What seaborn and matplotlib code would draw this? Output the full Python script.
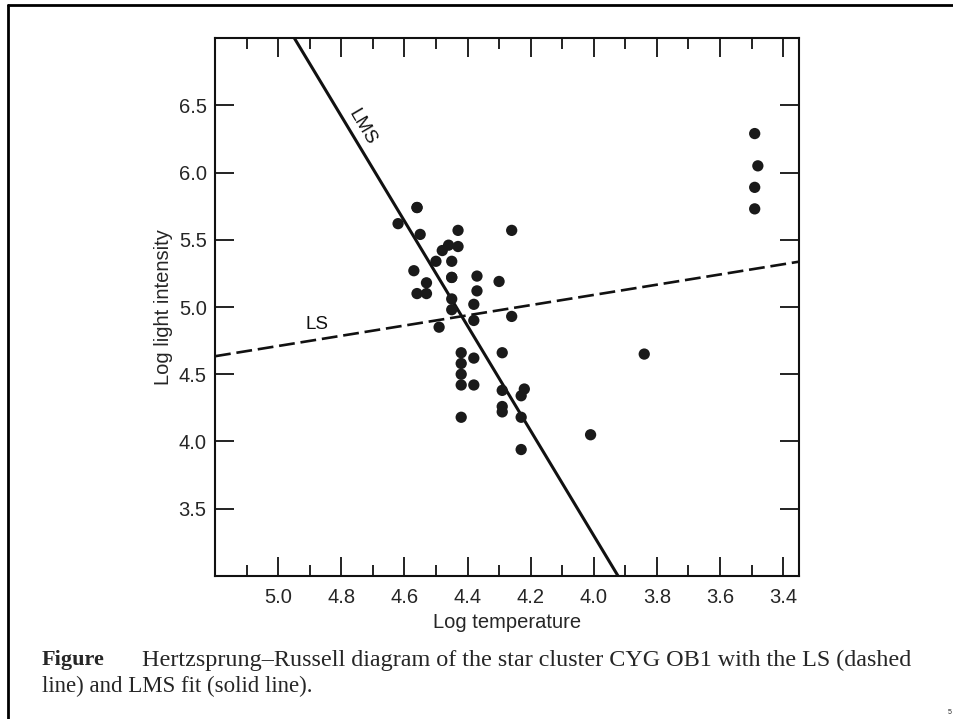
#diagrama de Hertzsprung-Russell del cúmulo CYG OB1 con ajuste LS y LMS
import numpy as np
import pandas as pd
import matplotlib.pyplot as plt
import seaborn as sns
from matplotlib.lines import Line2D
from matplotlib.ticker import MultipleLocator

#datos (log temperatura, log intensidad)
log_te = [4.37, 4.56, 4.26, 4.56, 4.30, 4.46, 3.84, 4.57, 4.26, 4.37,
          3.49, 4.43, 4.48, 4.01, 4.29, 4.42, 4.23, 4.42, 4.23, 3.49,
          4.29, 4.29, 4.42, 4.49, 4.38, 4.42, 4.29, 4.38, 4.22, 3.48,
          4.38, 4.56, 4.45, 3.49, 4.23, 4.62, 4.53, 4.45, 4.53, 4.43,
          4.38, 4.45, 4.50, 4.45, 4.55, 4.45, 4.42]
log_light = [5.23, 5.74, 4.93, 5.74, 5.19, 5.46, 4.65, 5.27, 5.57, 5.12,
             5.73, 5.45, 5.42, 4.05, 4.26, 4.58, 3.94, 4.18, 4.18, 5.89,
             4.38, 4.22, 4.42, 4.85, 5.02, 4.66, 4.66, 4.90, 4.39, 6.05,
             4.42, 5.10, 5.22, 6.29, 4.34, 5.62, 5.10, 5.22, 5.18, 5.57,
             4.62, 5.06, 5.34, 5.34, 5.54, 4.98, 4.50]

#coeficientes de las rectas (intercepto, pendiente)
ls_fit = (6.61, -0.38)
lms_fit = (-12.30, 3.90)

x_ticks = [5.0, 4.8, 4.6, 4.4, 4.2, 4.0, 3.8, 3.6, 3.4]
y_ticks = [3.5, 4.0, 4.5, 5.0, 5.5, 6.0, 6.5]

df = pd.DataFrame({"Log temperature": log_te, "Log light intensity": log_light})

sns.set_theme(style="ticks")
plt.rcParams['font.family'] = ['Liberation Sans', 'DejaVu Sans']

fig = plt.figure(figsize=(9.54, 7.19), dpi=100)
ax = fig.add_axes([0.2254, 0.199, 0.612, 0.748])

ax.set_xlim(5.2, 3.35)
ax.set_ylim(3.0, 7.0)

xs = np.linspace(*ax.get_xlim(), 50)
sns.lineplot(x=xs, y=lms_fit[0] + lms_fit[1] * xs, ax=ax, color="#111111",
             linewidth=2.2, sort=False)
sns.lineplot(x=xs, y=ls_fit[0] + ls_fit[1] * xs, ax=ax, color="#111111",
             linewidth=1.9, sort=False)
ax.lines[-1].set_dashes((6, 2.2))

sns.scatterplot(data=df, x="Log temperature", y="Log light intensity", ax=ax,
                color="#1a1a1a", s=66, edgecolor="none", zorder=3)

ax.set_xlim(5.2, 3.35)
ax.set_ylim(3.0, 7.0)

ax.text(4.735, 6.34, "LMS", rotation=-59.5, ha="center", va="center",
        fontsize=13.5, color="#111111")
ax.text(4.876, 4.87, "LS", ha="center", va="center", fontsize=13.5,
        color="#111111")

ax.set_xticks(x_ticks)
ax.set_xticklabels([f"{v:.1f}" for v in x_ticks])
ax.xaxis.set_minor_locator(MultipleLocator(0.1))
ax.set_yticks(y_ticks)
ax.set_yticklabels([f"{v:.1f}" for v in y_ticks])
ax.tick_params(axis="both", which="major", direction="in", length=14,
               width=1.3, labelsize=14.5, color="#111111",
               top=True, right=True)
ax.tick_params(axis="x", which="major", pad=9)
ax.tick_params(axis="y", which="major", pad=6)
ax.tick_params(axis="x", which="minor", direction="in", length=8,
               width=1.3, top=True, bottom=True, color="#111111")
ax.set_xlabel("Log temperature", fontsize=14.5, labelpad=4)
ax.set_ylabel("Log light intensity", fontsize=14.5, labelpad=4)
for sp in ax.spines.values():
    sp.set_linewidth(1.5)
    sp.set_color("#111111")

#marco exterior de la pagina escaneada
fig.add_artist(Line2D([0.0084, 1.0], [0.993, 0.993], color="black",
                      linewidth=2.0, transform=fig.transFigure))
fig.add_artist(Line2D([0.0084, 0.0084], [0.0, 0.993], color="black",
                      linewidth=2.0, transform=fig.transFigure))

#pie de figura
serif = ["Liberation Serif", "DejaVu Serif"]
fig.text(0.044, 1 - 660 / 719, "Figure", fontsize=16, fontweight="bold",
         family=serif, va="center")
fig.text(0.149, 1 - 660 / 719,
         "Hertzsprung\u2013Russell diagram of the star cluster CYG OB1 with the LS (dashed",
         fontsize=17.4, family=serif, va="center")
fig.text(0.044, 1 - 686 / 719, "line) and LMS fit (solid line).", fontsize=16.5,
         family=serif, va="center")
fig.text(0.997, 1 - 712 / 719, "5", fontsize=5, ha="right", va="center")

plt.savefig("out.png", dpi=100)
